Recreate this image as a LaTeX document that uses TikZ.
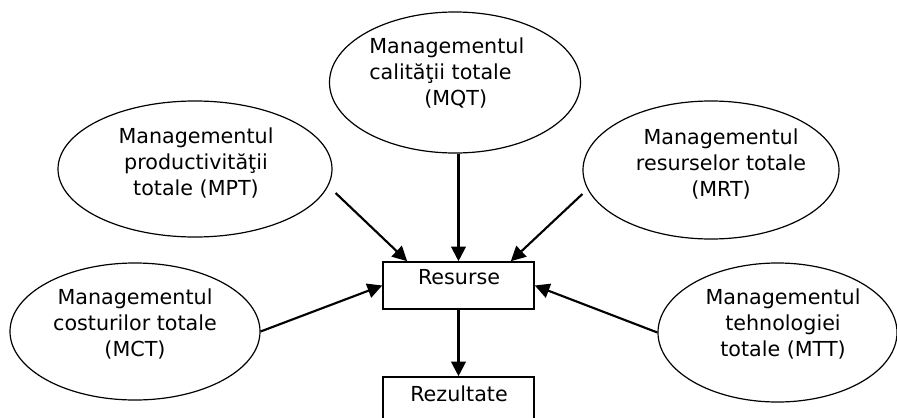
\documentclass[tikz,border=0pt]{standalone}
\usepackage{fontspec}
\setmainfont{DejaVu Sans}
\usetikzlibrary{shapes.geometric,arrows.meta,calc}
\begin{document}
\begin{tikzpicture}[x=0.75pt,y=-0.75pt,
  oval/.style={ellipse,draw,line width=0.9pt,inner sep=0pt},
  box/.style={rectangle,draw,line width=1.2pt,inner sep=0pt,
    minimum width=113.25pt,minimum height=35.25pt},
  txt/.style={font=\fontsize{15.5}{19.5}\selectfont,inner sep=0pt,align=center},
  link/.style={line width=1.6pt,-{Triangle[length=11pt,width=11pt]}}]

\path[use as bounding box] (0,0) rectangle (897,418);
\clip (0,0) rectangle (897,418);

% the five management approaches
\node[oval,minimum width=188.25pt,minimum height=105.75pt] (mqt) at (455,82.5) {};
\node[oval,minimum width=205.5pt,minimum height=102pt] (mpt) at (195,169) {};
\node[oval,minimum width=192pt,minimum height=103.5pt] (mrt) at (711,170) {};
\node[oval,minimum width=187.5pt,minimum height=102.75pt] (mct) at (135,331.5) {};
\node[oval,minimum width=179.25pt,minimum height=104.25pt] (mtt) at (777.5,332.5) {};

\node[txt,align=left,anchor=west] (tqt) at (369,73)
  {Managementul\\calităţii totale\\\hspace*{41.25pt}(MQT)};
\node[txt] (tpt) at (196,163) {Managementul\\productivităţii\\totale (MPT)};
\node[txt] (trt) at (721,164) {Managementul\\resurselor totale\\(MRT)};
\node[txt] (tct) at (135,324) {Managementul\\costurilor totale\\(MCT)};
\node[txt] (ttt) at (783,324) {Managementul\\tehnologiei\\totale (MTT)};

% central boxes
\node[box] (res) at (458.5,285.5) {};
\node[box] (rez) at (458.5,400.5) {};
\node[txt] (tres) at (459,277) {Resurse};
\node[txt] (trez) at (459,394) {Rezultate};

% connectors
\draw[link] (res.north |- mqt.south) -- (res.north);
\draw[link] ($(mpt.east)+(3,24)$) -- ($(res.north west)+(25,0)$);
\draw[link] ($(mrt.west)+(0,24)$) -- ($(res.north east)+(-24,0)$);
\draw[link] (mct.east) -- (res.west);
\draw[link] (mtt.west) -- (res.east);
\draw[link] (res.south) -- (rez.north);
\end{tikzpicture}
\end{document}
